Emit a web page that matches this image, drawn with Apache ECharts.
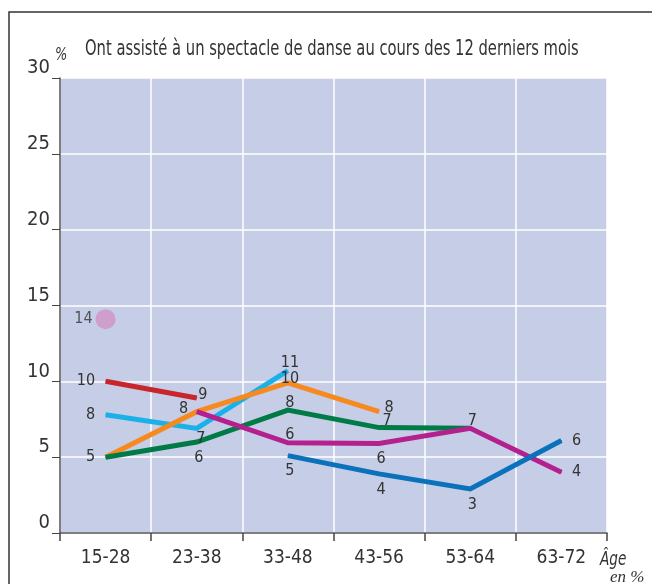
<!DOCTYPE html>
<html>
<head>
<meta charset="utf-8">
<script src="https://cdn.jsdelivr.net/npm/echarts@6/dist/echarts.min.js"></script>
<style>
  html, body { margin: 0; padding: 0; background: #fff; }
  #chart { width: 654px; height: 584px; }
</style>
</head>
<body>
<div id="chart"></div>
<script>
// age groups
const ages = ['15-28', '23-38', '33-48', '43-56', '53-64', '63-72'];

// one line per generation, null where it has no value
const redVals     = [10, 8.9, null, null, null, null];
const skyVals     = [7.8, 6.9, 10.7, null, null, null];
const orangeVals  = [5, 8, 9.9, 8, null, null];
const greenVals   = [5, 6, 8.1, 6.95, 6.9, null];
const magentaVals = [null, 8, 5.95, 5.9, 6.9, 4];
const blueVals    = [null, null, 5.1, 3.9, 2.9, 6.1];
const dotVals     = [14.1, null, null, null, null, null];

// printed value next to each point
const redText     = ['10', '9', '', '', '', ''];
const skyText     = ['8', '7', '11', '', '', ''];
const orangeText  = ['5', '8', '10', '8', '', ''];
const greenText   = ['', '6', '8', '7', '', ''];
const magentaText = ['', '', '6', '6', '7', '4'];
const blueText    = ['', '', '5', '4', '3', '6'];
const dotText     = ['14', '', '', '', '', ''];

const yTicks = [0, 5, 10, 15, 20, 25, 30];

const FONT = "'Liberation Sans Narrow', 'DejaVu Sans Condensed', 'Roboto', sans-serif";

// where the number sits relative to its point
const redPos     = ['left', 'near'];
const skyPos     = ['left', 'bottomRight', 'top'];
const orangePos  = ['left', 'topLeft', 'onTop', 'close'];
const greenPos   = [null, 'bottom', 'top', 'rightUp'];
const magentaPos = [null, null, 'top', 'bottom', 'top', 'right'];
const bluePos    = [null, null, 'bottom', 'bottom', 'bottom', 'right'];
const dotPos     = ['dot'];

function labelFor(pos) {
    let l = { show: true, fontFamily: FONT, fontSize: 16, color: '#333' };
    switch (pos) {
        case 'bottomRight': return Object.assign(l, { position: 'bottom', offset: [4, 0], distance: 2 });
        case 'topLeft': return Object.assign(l, { position: 'left', offset: [0, -3], distance: 8 });
        case 'onTop': return Object.assign(l, { position: 'inside', offset: [2, -4] });
        case 'near': return Object.assign(l, { position: 'right', offset: [0, -3], distance: 1 });
        case 'close': return Object.assign(l, { position: 'right', offset: [0, -4], distance: 5 });
        case 'rightUp': return Object.assign(l, { position: 'right', offset: [0, -7], distance: 3 });
        case 'dot': return Object.assign(l, { position: 'left', distance: 3 });
        case 'left':
        case 'right': return Object.assign(l, { position: pos, distance: 10 });
        case 'top': return Object.assign(l, { position: 'top', offset: [2, 0], distance: -1 });
        default: return Object.assign(l, { position: 'bottom', offset: [2, 0], distance: 7 });
    }
}

function buildData(vals, texts, positions) {
    return vals.map(function (v, i) {
        if (v === null) return null;
        let item = { value: v };
        if (texts[i]) {
            item.label = labelFor(positions[i]);
            item.label.formatter = texts[i];
        } else {
            item.label = { show: false };
        }
        return item;
    });
}

function lineSeries(name, color, vals, texts, positions) {
    return {
        name: name,
        type: 'line',
        data: buildData(vals, texts, positions),
        symbol: 'circle',
        symbolSize: 1,
        showSymbol: true,
        connectNulls: false,
        lineStyle: { color: color, width: 5, cap: 'butt', join: 'miter' },
        itemStyle: { color: color },
        emphasis: { disabled: true },
        z: 3
    };
}

let myChart = echarts.init(document.getElementById('chart'));

let option = {
    animation: false,
    textStyle: { fontFamily: FONT },
    grid: {
        left: 60,
        right: 47,
        top: 78,
        bottom: 51,
        show: true,
        backgroundColor: '#c6cde6',
        borderWidth: 0
    },
    xAxis: {
        type: 'category',
        data: ages,
        boundaryGap: true,
        axisLine: { lineStyle: { color: '#555', width: 1.5 } },
        axisTick: { show: true, length: 8, lineStyle: { color: '#444', width: 1.5 } },
        axisLabel: { color: '#333', fontSize: 19, fontFamily: FONT, margin: 16 },
        splitLine: { show: true, lineStyle: { color: '#ffffff', width: 1.5 } }
    },
    yAxis: {
        type: 'value',
        min: yTicks[0],
        max: yTicks[yTicks.length - 1],
        interval: 5,
        axisLine: { show: true, lineStyle: { color: '#555', width: 1.5 } },
        axisTick: { show: true, length: 8, lineStyle: { color: '#444', width: 1 } },
        axisLabel: { color: '#333', fontSize: 20, fontFamily: FONT, margin: 10, verticalAlign: 'bottom' },
        splitLine: { show: true, lineStyle: { color: '#ffffff', width: 1.5 } }
    },
    series: [
        lineSeries('rouge', '#c8262c', redVals, redText, redPos),
        lineSeries('bleu clair', '#1ab1e8', skyVals, skyText, skyPos),
        lineSeries('orange', '#f6891f', orangeVals, orangeText, orangePos),
        lineSeries('vert', '#007a46', greenVals, greenText, greenPos),
        lineSeries('magenta', '#b4208e', magentaVals, magentaText, magentaPos),
        lineSeries('bleu', '#0a72ba', blueVals, blueText, bluePos),
        {
            name: 'point',
            type: 'scatter',
            data: buildData(dotVals, dotText, dotPos),
            symbolSize: 20,
            itemStyle: { color: '#cf93c3' },
            emphasis: { disabled: true }
        }
    ],
    graphic: [
        {
            type: 'polyline',
            shape: { points: [[9, 584], [9, 12], [652, 12]] },
            style: { stroke: '#333', lineWidth: 1.5, fill: null }
        },
        {
            type: 'text',
            x: 85,
            y: 39,
            scaleX: 0.78,
            style: { text: 'Ont assisté à un spectacle de danse au cours des 12 derniers mois', fontFamily: FONT, fontSize: 21, fill: '#333' }
        },
        {
            type: 'text',
            x: 55,
            y: 47,
            scaleX: 0.85,
            style: { text: '%', fontFamily: FONT, fontStyle: 'italic', fontSize: 17, fill: '#333' }
        },
        {
            type: 'text',
            x: 600,
            y: 551,
            scaleX: 0.8,
            style: { text: 'Âge', fontFamily: FONT, fontStyle: 'italic', fontSize: 19, fill: '#333' }
        },
        {
            type: 'text',
            x: 610,
            y: 569,
            style: { text: 'en %', fontFamily: "'Liberation Serif', 'DejaVu Serif', serif", fontStyle: 'italic', fontSize: 17, fill: '#333' }
        }
    ]
};

myChart.setOption(option);
</script>
</body>
</html>
